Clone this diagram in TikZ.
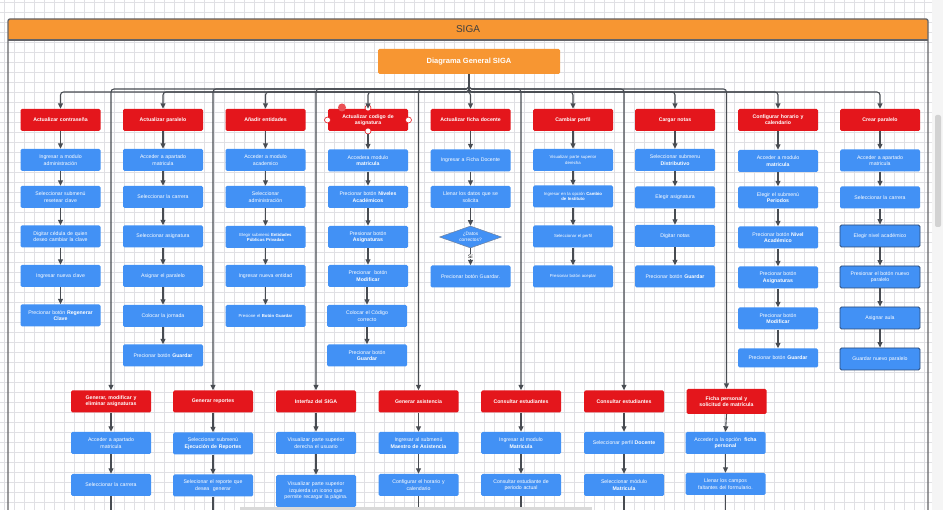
\documentclass[tikz,border=0pt]{standalone}
\usepackage{fontspec}
\setmainfont{Liberation Sans}
\usetikzlibrary{arrows.meta,shapes.geometric}
\definecolor{sigared}{RGB}{228,22,28}
\definecolor{sigablue}{RGB}{66,145,245}
\definecolor{sigaorange}{RGB}{247,150,50}
\definecolor{arrgray}{RGB}{72,76,82}
\definecolor{framegray}{RGB}{100,100,104}
\definecolor{gridc}{RGB}{224,224,228}
\definecolor{selborder}{RGB}{45,75,120}
\tikzset{
  redbox/.style={fill=sigared, rounded corners=1.5pt, minimum width=80pt, minimum height=22pt, text width=76pt, align=center, inner sep=0.5pt, text=white, font=\fontsize{5.2}{6.2}\selectfont\bfseries},
  bluebox/.style={fill=sigablue, rounded corners=1.5pt, minimum width=80pt, minimum height=22pt, text width=76pt, align=center, inner sep=0.5pt, text=white, font=\fontsize{5.2}{6.5}\selectfont},
  smalltxt/.style={font=\fontsize{4.3}{5.1}\selectfont},
  selbox/.style={draw=selborder, line width=0.8pt},
  arr/.style={draw=arrgray, line width=1.1pt, -{Triangle[length=5.5pt,width=5pt]}},
  trunk/.style={draw=arrgray, line width=1.1pt},
  handle/.style={circle, draw=sigared, fill=white, line width=0.6pt, minimum size=6pt, inner sep=0pt},
}
\begin{document}
\begin{tikzpicture}[x=1pt,y=-1pt]
\useasboundingbox (0,0) rectangle (943,510);
\clip (0,0) rectangle (943,510);
\fill[white] (0,0) rectangle (943,510);
\foreach \i in {0,10,...,940} \draw[gridc,line width=0.5pt] (\i+4,0) -- (\i+4,510);
\foreach \j in {0,10,...,510} \draw[gridc,line width=0.5pt] (0,\j+2) -- (943,\j+2);
% scrollbar
\fill[gray!8] (932,0) rectangle (943,510);
\fill[gray!35, rounded corners=2pt] (935,115) rectangle (941,227);
% frame
\fill[sigaorange, rounded corners=2pt] (8,19) rectangle (928,40);
\draw[framegray, line width=1.3pt, rounded corners=2pt] (8,520) -- (8,19) -- (928,19) -- (928,520);
\draw[framegray, line width=1.1pt] (8,40) -- (928,40);
\node[text=black!75, font=\fontsize{10}{12}\selectfont] (title) at (468,29) {SIGA};
% main node
\node[fill=sigaorange, rounded corners=1.5pt, minimum width=182pt, minimum height=25pt, text=white, font=\fontsize{7.5}{9}\selectfont\bfseries, inner sep=0pt] (dg) at (469,61.5) {Diagrama General SIGA};
% top row red
\node[redbox] (r1) at (60.5,120) {Actualizar contraseña};
\node[redbox] (r2) at (163,120) {Actualizar paralelo};
\node[redbox] (r3) at (265.5,120) {Añadir entidades};
\node[redbox] (r4) at (368,120) {Actualizar codigo de\\asignatura};
\node[redbox] (r5) at (470.5,120) {Actualizar ficha docente};
\node[redbox] (r6) at (573,120) {Cambiar perfil};
\node[redbox] (r7) at (675,120) {Cargar notas};
\node[redbox] (r8) at (778,120) {Configurar horario y\\calendario};
\node[redbox] (r9) at (880,120) {Crear paralelo};
% selection handles
\node[circle, fill=sigared!75, minimum size=8pt, inner sep=0pt] (h0) at (342,107.5) {};
\node[handle] (h1) at (368,108) {};
\node[handle] (h2) at (327.5,120) {};
\node[handle] (h3) at (408.5,120) {};
\node[handle] (h4) at (368,131) {};
% column 1
\node[bluebox] (a1) at (60.5,160) {Ingresar a modulo\\administración};
\node[bluebox] (a2) at (60.5,197) {Seleccionar submenú\\resetear clave};
\node[bluebox] (a3) at (60.5,236.5) {Digitar cédula de quien\\deseo cambiar la clave};
\node[bluebox] (a4) at (60.5,276) {Ingresar nueva clave};
\node[bluebox] (a5) at (60.5,315.5) {Precionar botón \textbf{Regenerar}\\\textbf{Clave}};
% column 2
\node[bluebox] (b1) at (163,160) {Acceder a apartado\\matricula};
\node[bluebox] (b2) at (163,197) {Seleccionar la carrera};
\node[bluebox] (b3) at (163,236.5) {Seleccionar asignatura};
\node[bluebox] (b4) at (163,276) {Asignar el paralelo};
\node[bluebox] (b5) at (163,316) {Colocar la jornada};
\node[bluebox] (b6) at (163,355.5) {Precionar botón \textbf{Guardar}};
% column 3
\node[bluebox] (c1) at (265.5,160) {Acceder a modulo\\academico};
\node[bluebox] (c2) at (265.5,197) {Seleccionar\\administración};
\node[bluebox,smalltxt] (c3) at (265.5,237) {Elegir submenú \textbf{Entidades}\\\textbf{Públicas Privadas}};
\node[bluebox] (c4) at (265.5,276) {Ingresar nueva entidad};
\node[bluebox,smalltxt] (c5) at (265.5,316) {Presione el \textbf{Botón Guardar}};
% column 4
\node[bluebox] (d1) at (368,160.5) {Accedera modulo\\\textbf{matricula}};
\node[bluebox] (d2) at (368,197) {Precionar botón \textbf{Niveles}\\\textbf{Académicos}};
\node[bluebox] (d3) at (368,237) {Presionar botón\\\textbf{Asignaturas}};
\node[bluebox] (d4) at (368,276) {Precionar\ \ botón\\\textbf{Modificar}};
\node[bluebox] (d5) at (367,316) {Colocar el Código\\correcto};
\node[bluebox] (d6) at (367,355.5) {Precionar botón\\\textbf{Guardar}};
% column 5
\node[bluebox] (e1) at (470.5,160.5) {Ingresar a Ficha Docente};
\node[bluebox] (e2) at (470.5,197) {Llenar los datos que se\\solicita};
\node[diamond, fill=sigablue, draw=selborder!70, line width=0.5pt, aspect=2.8, minimum width=62pt, minimum height=22pt, inner sep=0pt, text=white, align=center, font=\fontsize{4.8}{5.5}\selectfont] (e3) at (470.5,237) {¿Datos\\correctos?};
\node[bluebox] (e4) at (470.5,276.5) {Precionar botón Guardar.};
% column 6
\node[bluebox,smalltxt] (f1) at (573,160) {Visualizar parte superior\\derecha};
\node[bluebox,smalltxt] (f2) at (573,196.5) {Ingresar en la opción \textbf{Cambio}\\\textbf{de Instituto}};
\node[bluebox,smalltxt] (f3) at (573,236.5) {Seleccionar el perfil};
\node[bluebox,smalltxt] (f4) at (573,276.5) {Presionar botón aceptar};
% column 7
\node[bluebox] (g1) at (675,160) {Seleccionar submenu\\\textbf{Distributivo}};
\node[bluebox] (g2) at (675,197.5) {Elegir asignatura};
\node[bluebox] (g3) at (675,236) {Digitar notas};
\node[bluebox] (g4) at (675,276.5) {Precionar botón \textbf{Guardar}};
% column 8
\node[bluebox] (k1) at (778,161) {Acceder a modulo\\\textbf{matricula}};
\node[bluebox] (k2) at (778,197.5) {Elegir el submenú\\\textbf{Periodos}};
\node[bluebox] (k3) at (778,237.5) {Precionar botón \textbf{Nivel}\\\textbf{Académico}};
\node[bluebox] (k4) at (778,277.5) {Precionar botón\\\textbf{Asignaturas}};
\node[bluebox] (k5) at (778,318.5) {Precionar botón\\\textbf{Modificar}};
\node[bluebox,minimum height=19pt] (k6) at (778,358) {Precionar botón \textbf{Guardar}};
% column 9
\node[bluebox] (m1) at (880,160.5) {Acceder a apartado\\matricula};
\node[bluebox] (m2) at (880,197.5) {Seleccionar la carrera};
\node[bluebox,selbox] (m3) at (880,236) {Elegir nivel académico};
\node[bluebox,selbox] (m4) at (880,277) {Presionar el botón nuevo\\paralelo};
\node[bluebox,selbox] (m5) at (880,318) {Asignar aula};
\node[bluebox,selbox] (m6) at (880,359) {Guardar nuevo paralelo};
% bottom row red
\node[redbox] (s1) at (111,401.5) {Generar, modificar y\\eliminar asignaturas};
\node[redbox] (s2) at (213,401.5) {Generar reportes};
\node[redbox] (s3) at (316,401.5) {Interfaz del SIGA};
\node[redbox] (s4) at (418.5,401.5) {Generar asistencia};
\node[redbox] (s5) at (521,401.5) {Consultar estudiantes};
\node[redbox] (s6) at (624,401.5) {Consultar estudiantes};
\node[redbox,minimum height=25pt] (s7) at (726.5,401.5) {Ficha personal y\\solicitud de matrícula};
% bottom row blue
\node[bluebox] (t1) at (111,443) {Acceder a apartado\\matricula};
\node[bluebox] (u1) at (111,485) {Seleccionar la carrera};
\node[bluebox] (t2) at (213,443.5) {Seleccionar submenú\\\textbf{Ejecución de Reportes}};
\node[bluebox] (u2) at (213,485.5) {Selecionar el reporte que\\desea\ \ generar};
\node[bluebox] (t3) at (316,443) {Visualizar parte superior\\derecha el usuario};
\node[bluebox,minimum height=32pt] (u3) at (316,491) {Visualizar parte superior\\izquierda un icono que\\permite recargar la página.};
\node[bluebox] (t4) at (418.5,443) {Ingresar al submenú\\\textbf{Maestro de Asistencia}};
\node[bluebox] (u4) at (418.5,485) {Configurar el horario y\\calendario};
\node[bluebox] (t5) at (521,443) {Ingresar al modulo\\\textbf{Matricula}};
\node[bluebox] (u5) at (521,485) {Consultar estudiante de\\periodo actual};
\node[bluebox] (t6) at (624,443) {Seleccionar perfil \textbf{Docente}};
\node[bluebox] (u6) at (624,485) {Seleccionar módulo\\\textbf{Matricula}};
\node[bluebox] (t7) at (725.5,443) {Acceder a la opción\ \ \textbf{ficha}\\\textbf{personal}};
\node[bluebox] (u7) at (725.5,484) {Llenar los campos\\faltantes del formulario.};
% trunk connectors
\coordinate (hubA) at (469,92);
\coordinate (hubB) at (469,89);
\foreach \n in {r1,r2,r3,r4,r6,r7,r8,r9}
  \draw[arr, rounded corners=3pt] (dg.south) -- (hubA) -| (\n.north);
\draw[arr, rounded corners=3pt] (dg.south) -- (hubA) -| (r5.north);
\foreach \n in {s1,s2,s3,s4,s5,s6,s7}
  \draw[arr, rounded corners=3pt] (dg.south) -- (hubB) -| (\n.north);
% column arrows
\foreach \p/\q in {r1/a1,a1/a2,a2/a3,a3/a4,a4/a5,
  r2/b1,b1/b2,b2/b3,b3/b4,b4/b5,b5/b6,
  r3/c1,c1/c2,c2/c3,c3/c4,c4/c5,
  d1/d2,d2/d3,d3/d4,d5/d6,
  r5/e1,e1/e2,e2/e3,
  r6/f1,f1/f2,f2/f3,f3/f4,
  r7/g1,g1/g2,g2/g3,g3/g4,
  r8/k1,k1/k2,k2/k3,k3/k4,k4/k5,k5/k6,
  r9/m1,m1/m2,m2/m3,m3/m4,m4/m5,m5/m6,
  s1/t1,t1/u1,s2/t2,t2/u2,s3/t3,t3/u3,s4/t4,t4/u4,s5/t5,t5/u5,s6/t6,t6/u6,s7/t7,t7/u7}
  \draw[arr] (\p.south) -- (\q.north);
\draw[arr] (d4.south -| d5.north) -- (d5.north);
\draw[arr] (h4.south) -- (d1.north);
\draw[arr] (e3.south) -- node[fill=white, inner sep=0.5pt, text=black, font=\fontsize{5}{6}\selectfont] (si) {Sí} (e4.north);
% arrows leaving the bottom edge
\foreach \n in {u1,u2,u4,u5,u6,u7}
  \draw[trunk] (\n.south) -- ++(0,20);
% bottom overlay bar
\fill[gray!30] (240,507.5) rectangle (592,510);
\end{tikzpicture}
\end{document}
